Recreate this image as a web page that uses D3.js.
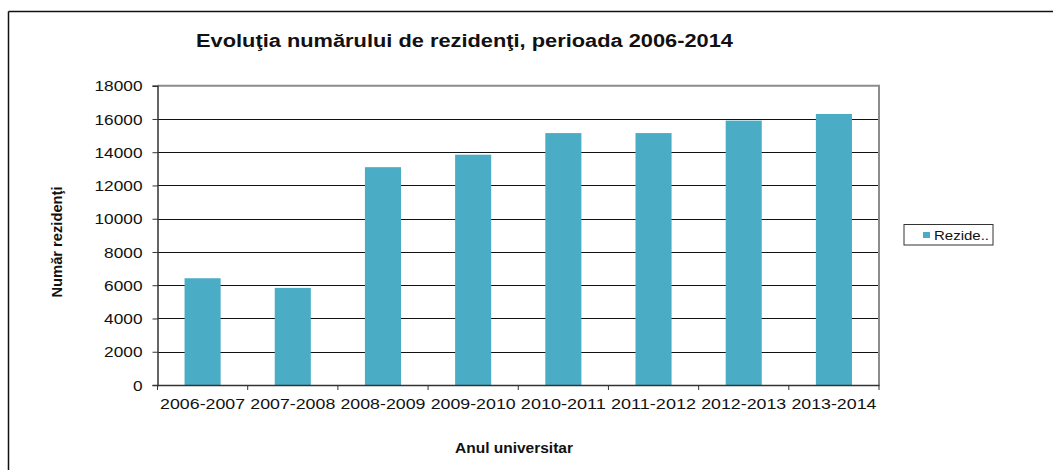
<!DOCTYPE html>
<html>
<head>
<meta charset="utf-8">
<script src="https://cdn.jsdelivr.net/npm/d3@7"></script>
<style>
  body { margin: 0; background: #fff; }
  text { font-family: "Liberation Sans", Arial, sans-serif; fill: #111; }
</style>
</head>
<body>
<div id="chart"></div>
<script>
var years = ["2006-2007", "2007-2008", "2008-2009", "2009-2010", "2010-2011", "2011-2012", "2012-2013", "2013-2014"];
var rezidenti = [6420, 5840, 13100, 13850, 15150, 15150, 15900, 16300];
var yTicks = [0, 2000, 4000, 6000, 8000, 10000, 12000, 14000, 16000, 18000];

var width = 1053;
var height = 470;
var plotLeft = 157.5, plotRight = 879, plotTop = 85.7, plotBottom = 385;

var svg = d3.select("#chart")
    .append("svg")
    .attr("width", width)
    .attr("height", height);

// outer frame (only top and left visible)
svg.append("line").attr("x1", 8.5).attr("x2", width).attr("y1", 11.5).attr("y2", 11.5)
    .attr("stroke", "#111").attr("stroke-width", 1.5);
svg.append("line").attr("x1", 8.5).attr("x2", 8.5).attr("y1", 11.5).attr("y2", height)
    .attr("stroke", "#111").attr("stroke-width", 1.5);

var x = d3.scaleBand()
    .domain(years)
    .range([plotLeft, plotRight])
    .paddingInner(0.6)
    .paddingOuter(0.3);

var y = d3.scaleLinear()
    .domain([0, 18000])
    .range([plotBottom, plotTop]);

// gridlines
svg.append("g")
    .selectAll("line")
    .data(yTicks.slice(1, -1))
    .enter()
    .append("line")
    .attr("x1", plotLeft)
    .attr("x2", plotRight)
    .attr("y1", function(d) { return Math.round(y(d)) + 0.5; })
    .attr("y2", function(d) { return Math.round(y(d)) + 0.5; })
    .attr("stroke", "#111")
    .attr("stroke-width", 1);

// plot area top and right border
svg.append("path")
    .attr("d", "M" + plotLeft + "," + plotTop + "H" + plotRight + "V" + plotBottom)
    .attr("fill", "none")
    .attr("stroke", "#8c8c8c")
    .attr("stroke-width", 2);

// bars
svg.append("g")
    .selectAll("rect")
    .data(rezidenti)
    .enter()
    .append("rect")
    .attr("x", function(d, i) { return x(years[i]); })
    .attr("y", function(d) { return y(d); })
    .attr("width", x.bandwidth())
    .attr("height", function(d) { return plotBottom - y(d); })
    .attr("fill", "#4bacc6");

// y axis
var yAxis = svg.append("g")
    .attr("transform", "translate(" + plotLeft + ",0)")
    .call(d3.axisLeft(y).tickValues(yTicks).tickSize(5).tickPadding(10).tickFormat(d3.format("d")));
yAxis.select(".domain").attr("stroke", "#333").attr("stroke-width", 1.5);
yAxis.selectAll(".tick line").attr("stroke", "#333");
yAxis.selectAll("text")
    .style("font-size", "14px")
    .attr("fill", "#222")
    .attr("dy", "0.36em")
    .attr("textLength", function(d) { return String(d).length * 9.6; })
    .attr("lengthAdjust", "spacingAndGlyphs");

// x axis
var xAxis = svg.append("g")
    .attr("transform", "translate(0," + plotBottom + ")")
    .call(d3.axisBottom(x).tickSize(0).tickPadding(14));
xAxis.select(".domain").attr("stroke", "#333").attr("stroke-width", 1.5);
xAxis.selectAll("text")
    .style("font-size", "14px")
    .attr("fill", "#222")
    .attr("textLength", 85)
    .attr("lengthAdjust", "spacingAndGlyphs");

// category boundary ticks
xAxis.selectAll(".bound")
    .data(d3.range(years.length + 1))
    .enter()
    .append("line")
    .attr("class", "bound")
    .attr("x1", function(i) { return plotLeft + i * x.step(); })
    .attr("x2", function(i) { return plotLeft + i * x.step(); })
    .attr("y1", 0)
    .attr("y2", 5)
    .attr("stroke", "#333");

// title
svg.append("text")
    .attr("x", 196)
    .attr("y", 47)
    .attr("textLength", 537)
    .attr("lengthAdjust", "spacingAndGlyphs")
    .style("font-size", "17.5px")
    .style("font-weight", "bold")
    .text("Evoluţia  numărului  de  rezidenţi,  perioada  2006-2014");

// axis titles
svg.append("text")
    .attr("x", 514)
    .attr("y", 453)
    .attr("text-anchor", "middle")
    .attr("textLength", 118)
    .attr("lengthAdjust", "spacingAndGlyphs")
    .style("font-size", "14px")
    .style("font-weight", "bold")
    .text("Anul universitar");

svg.append("text")
    .attr("transform", "translate(62,242) rotate(-90)")
    .attr("text-anchor", "middle")
    .attr("textLength", 111)
    .attr("lengthAdjust", "spacingAndGlyphs")
    .style("font-size", "14px")
    .style("font-weight", "bold")
    .text("Număr rezidenţi");

// legend
var legend = svg.append("g");
legend.append("rect")
    .attr("x", 904)
    .attr("y", 224.5)
    .attr("width", 89)
    .attr("height", 20.5)
    .attr("fill", "#fff")
    .attr("stroke", "#333")
    .attr("stroke-width", 1);
legend.append("rect")
    .attr("x", 923)
    .attr("y", 232)
    .attr("width", 7)
    .attr("height", 6)
    .attr("fill", "#4bacc6");
legend.append("text")
    .attr("x", 934)
    .attr("y", 240)
    .attr("textLength", 55)
    .attr("lengthAdjust", "spacingAndGlyphs")
    .style("font-size", "13px")
    .text("Rezide..");
</script>
</body>
</html>
